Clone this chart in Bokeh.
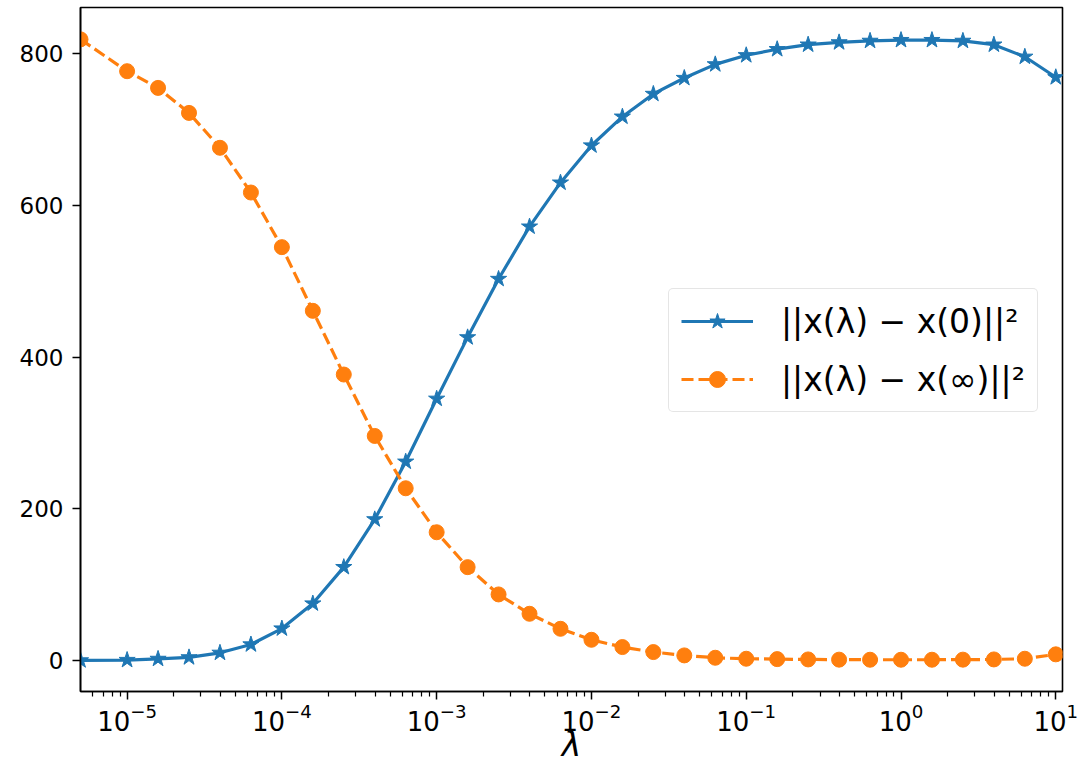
from bokeh.plotting import figure
from bokeh.models import ColumnDataSource, Range1d, FixedTicker, Legend, LegendItem
from bokeh.embed import file_html
from bokeh.resources import INLINE

# data
lam = [5e-6] + [10 ** (-5 + 0.2 * k) for k in range(31)]
dist_zero = [0, 0.5, 2, 4, 10, 21, 42, 75, 123, 186, 262, 345, 426, 503, 572, 630,
             679, 717, 747, 768, 786, 798, 806, 812, 815, 817, 818, 818, 817, 812, 796, 769]
dist_inf = [819, 777, 755, 722, 676, 617, 545, 461, 377, 296, 227, 169, 123, 87, 61.5, 41.7,
            27.2, 17.6, 11, 6.6, 3.5, 2.2, 1.7, 1.3, 1.0, 0.9, 0.9, 0.9, 1.0, 1.3, 2.2, 8]
x_major = [1e-5, 1e-4, 1e-3, 1e-2, 1e-1, 1e0, 1e1]
y_major = [0, 200, 400, 600, 800]
labels = ["||x(λ) − x(0)||²", "||x(λ) − x(∞)||²"]

x_minor = [m * 10 ** e for e in range(-6, 2) for m in range(2, 10)]

src = ColumnDataSource(dict(lam=lam, a=dist_zero, b=dist_inf))

p = figure(width=1081, height=783, x_axis_type="log",
           x_range=Range1d(5e-6, 11.05), y_range=Range1d(-41, 861),
           output_backend="svg", toolbar_location=None,
           min_border_left=80, min_border_right=19, min_border_top=7, min_border_bottom=92)
p.grid.visible = False
p.outline_line_color = "black"
p.outline_line_width = 1.6
p.background_fill_color = "white"
p.border_fill_color = "white"

l1 = p.line("lam", "a", source=src, color="#1f77b4", line_width=3.2)
s1 = p.scatter("lam", "a", source=src, marker="star", size=17, color="#1f77b4")
l2 = p.line("lam", "b", source=src, color="#ff7f0e", line_width=3.2, line_dash="12 5")
s2 = p.scatter("lam", "b", source=src, marker="circle", size=15, color="#ff7f0e")

xa = p.xaxis[0]
xa.ticker = FixedTicker(ticks=x_major, minor_ticks=x_minor)
ya = p.yaxis[0]
ya.ticker = FixedTicker(ticks=y_major)
for ax in (xa, ya):
    ax.axis_line_color = "black"
    ax.axis_line_width = 1.6
    ax.major_tick_out = 8
    ax.major_tick_in = 0
    ax.minor_tick_out = 5
    ax.minor_tick_in = 0
    ax.major_tick_line_width = 1.5
    ax.minor_tick_line_width = 1.2
    ax.major_label_text_font = "DejaVu Sans"
    ax.major_label_text_font_size = "23px"
    ax.major_label_text_color = "black"
    ax.major_label_standoff = 6
ya.minor_tick_out = 0
ya.major_label_standoff = 9
xa.major_label_text_font_size = "26px"
xa.major_label_standoff = 3
xa.axis_label = "λ"
xa.axis_label_text_font = "DejaVu Sans"
xa.axis_label_text_font_size = "33px"
xa.axis_label_text_font_style = "italic"
xa.axis_label_text_color = "black"
xa.axis_label_standoff = -9

legend = Legend(items=[LegendItem(label=labels[0], renderers=[l1, s1]),
                       LegendItem(label=labels[1], renderers=[l2, s2])],
                location=(588, 279))
legend.label_text_font = "DejaVu Sans"
legend.label_text_font_size = "33px"
legend.label_text_color = "black"
legend.glyph_width = 72
legend.glyph_height = 40
legend.label_height = 40
legend.label_standoff = 28
legend.spacing = 18
legend.padding = 12
legend.margin = 0
legend.border_line_color = "#cccccc"
legend.border_line_width = 1.5
legend.border_radius = 5
legend.background_fill_alpha = 0.8
p.add_layout(legend)

open("out.html", "w").write(file_html(p, INLINE))
